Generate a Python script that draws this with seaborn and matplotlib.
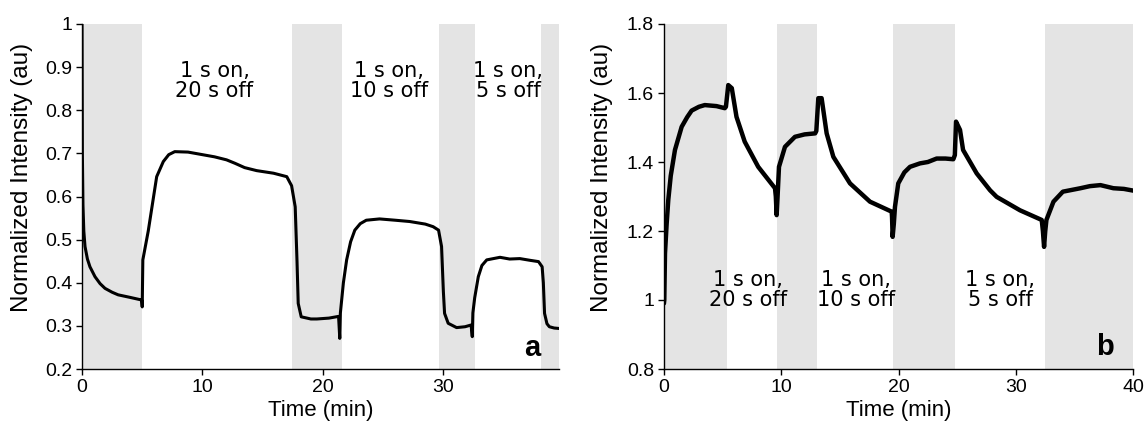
import numpy as np
import pandas as pd
import matplotlib
matplotlib.use("Agg")
import matplotlib.pyplot as plt
import seaborn as sns

# ---------------- data ----------------
time_a = [0, 0.03, 0.08, 0.15, 0.25, 0.45, 0.66, 1.08, 1.5, 1.91, 2.5, 3.0, 4.0, 4.95,
          5.0, 5.05, 5.5, 6.2, 6.75, 7.2, 7.7, 8.8, 10.0, 11.0, 12.0, 12.7, 13.5, 14.5,
          15.9, 17.0, 17.4, 17.7, 17.85, 17.95, 18.2, 19.0, 19.5, 20.5, 21.3, 21.4,
          21.45, 21.7, 21.97, 22.3, 22.65, 23.1, 23.6, 24.7, 26.0, 27.2, 28.5, 29.15,
          29.6, 29.85, 30.0, 30.1, 30.4, 31.1, 31.8, 32.3, 32.4, 32.45, 32.6, 32.9,
          33.2, 33.6, 34.7, 35.5, 36.35, 37.2, 37.9, 38.2, 38.3, 38.4, 38.6, 38.8,
          39.2, 39.6]
intensity_a = [1.0, 0.70, 0.58, 0.52, 0.484, 0.455, 0.437, 0.414, 0.398, 0.387, 0.378,
               0.372, 0.366, 0.360, 0.344, 0.453, 0.52, 0.646, 0.681, 0.697, 0.704,
               0.703, 0.697, 0.692, 0.685, 0.677, 0.667, 0.660, 0.654, 0.646, 0.625,
               0.576, 0.45, 0.352, 0.321, 0.316, 0.316, 0.318, 0.322, 0.271, 0.33,
               0.40, 0.453, 0.495, 0.522, 0.537, 0.545, 0.548, 0.545, 0.542, 0.536,
               0.530, 0.522, 0.484, 0.38, 0.329, 0.306, 0.296, 0.298, 0.302, 0.275,
               0.33, 0.365, 0.414, 0.440, 0.453, 0.459, 0.455, 0.456, 0.452, 0.449,
               0.437, 0.40, 0.329, 0.305, 0.298, 0.295, 0.294]

time_b = [0.02, 0.05, 0.11, 0.25, 0.39, 0.6, 0.96, 1.53, 2.0, 2.38, 3.0, 3.5, 4.5, 5.2,
          5.3, 5.5, 5.8, 6.2, 6.9, 8.05, 9.48, 9.55, 9.62, 9.7, 9.82, 10.33, 11.18, 12.0,
          12.9, 13.0, 13.17, 13.45, 13.88, 14.45, 15.87, 17.57, 19.42, 19.45, 19.5,
          19.6, 19.7, 19.98, 20.5, 20.98, 21.83, 22.5, 23.25, 24.0, 24.67, 24.8, 24.9,
          25.24, 25.5, 26.66, 27.8, 28.36, 30.35, 32.2, 32.3, 32.4, 32.5, 32.6, 33.2,
          34.0, 35.5, 36.3, 37.2, 38.3, 39.2, 40.0]
intensity_b = [0.99, 1.0, 1.135, 1.22, 1.29, 1.36, 1.435, 1.502, 1.53, 1.549, 1.56,
               1.565, 1.562, 1.556, 1.56, 1.623, 1.614, 1.531, 1.459, 1.386, 1.324,
               1.30, 1.246, 1.30, 1.386, 1.444, 1.473, 1.48, 1.483, 1.49, 1.585, 1.585,
               1.483, 1.415, 1.338, 1.285, 1.256, 1.24, 1.183, 1.22, 1.27, 1.338, 1.37,
               1.386, 1.396, 1.40, 1.41, 1.41, 1.408, 1.42, 1.517, 1.493, 1.435, 1.367,
               1.318, 1.299, 1.26, 1.232, 1.20, 1.154, 1.20, 1.232, 1.285, 1.314,
               1.324, 1.33, 1.333, 1.324, 1.322, 1.317]

# shaded (light-off) intervals
bands_a = [(0, 5.0), (17.45, 21.6), (29.65, 32.6), (38.1, 39.6)]
bands_b = [(0, 5.37), (9.62, 13.1), (19.5, 24.8), (32.5, 40.0)]

labels_a = ["1 s on,\n20 s off", "1 s on,\n10 s off", "1 s on,\n5 s off"]
label_x_a = [11.0, 25.5, 35.4]
labels_b = ["1 s on,\n20 s off", "1 s on,\n10 s off", "1 s on,\n5 s off"]
label_x_b = [7.2, 16.35, 28.65]

yticks_a = [0.2, 0.3, 0.4, 0.5, 0.6, 0.7, 0.8, 0.9, 1.0]
yticklabels_a = ["0.2", "0.3", "0.4", "0.5", "0.6", "0.7", "0.8", "0.9", "1"]
yticks_b = [0.8, 1.0, 1.2, 1.4, 1.6, 1.8]
yticklabels_b = ["0.8", "1", "1.2", "1.4", "1.6", "1.8"]
xticks_a = [0, 10, 20, 30]
xticks_b = [0, 10, 20, 30, 40]

df_a = pd.DataFrame({"t": time_a, "v": intensity_a})
df_b = pd.DataFrame({"t": time_b, "v": intensity_b})

# ---------------- style ----------------
sns.set_style("ticks")
plt.rcParams["font.family"] = ["Liberation Sans", "DejaVu Sans"]
plt.rcParams["text.color"] = "black"
plt.rcParams["axes.labelcolor"] = "black"

fig = plt.figure(figsize=(11.48, 4.30), dpi=100)
ax_a = fig.add_axes([82 / 1148, 61 / 430, 477 / 1148, 345 / 430])
ax_b = fig.add_axes([663.7 / 1148, 61 / 430, 469.6 / 1148, 345 / 430])

band_color = "#e4e4e4"
tick_fs = 14
xlabel_fs = 16
ylabel_fs = 17.5
ann_font = "DejaVu Sans"
ann_fs = 15


def style_axis(ax, xlim, ylim, xticks, yticks, yticklabels, ylab_x):
    ax.set_xlim(*xlim)
    ax.set_ylim(*ylim)
    ax.set_xticks(xticks)
    ax.set_xticklabels([str(x) for x in xticks], fontsize=tick_fs)
    ax.set_yticks(yticks)
    ax.set_yticklabels(yticklabels, fontsize=tick_fs)
    sns.despine(ax=ax)
    for s in ["left", "bottom"]:
        ax.spines[s].set_linewidth(1.0)
        ax.spines[s].set_color("black")
    ax.tick_params(direction="out", length=4, width=1.0, colors="black", pad=3)
    ax.set_xlabel("Time (min)", fontsize=xlabel_fs, labelpad=3, color="black")
    ax.set_ylabel("Normalized Intensity (au)", fontsize=ylabel_fs, color="black")
    ax.yaxis.set_label_coords(ylab_x, 0.555)
    ax.set_facecolor("white")


# ---------------- panel a ----------------
for s, e in bands_a:
    ax_a.axvspan(s, e, color=band_color, lw=0, zorder=0)
sns.lineplot(data=df_a, x="t", y="v", ax=ax_a, color="black", lw=2.2,
             sort=False, estimator=None, zorder=3)
style_axis(ax_a, (0, 39.6), (0.2, 1.0), xticks_a, yticks_a, yticklabels_a, -0.103)
for txt, x in zip(labels_a, label_x_a):
    ax_a.text(x, 0.868, txt, ha="center", va="center", fontsize=ann_fs,
              family=ann_font, linespacing=1.05, color="black")
ax_a.text(37.35, 0.231, "a", ha="center", va="baseline", fontsize=21,
          fontweight="bold", color="black")

# ---------------- panel b ----------------
for s, e in bands_b:
    ax_b.axvspan(s, e, color=band_color, lw=0, zorder=0)
sns.lineplot(data=df_b, x="t", y="v", ax=ax_b, color="black", lw=3.2,
             sort=False, estimator=None, zorder=3)
style_axis(ax_b, (0, 40), (0.8, 1.8), xticks_b, yticks_b, yticklabels_b, -0.108)
for txt, x in zip(labels_b, label_x_b):
    ax_b.text(x, 1.029, txt, ha="center", va="center", fontsize=ann_fs,
              family=ann_font, linespacing=1.05, color="black")
ax_b.text(37.6, 0.841, "b", ha="center", va="baseline", fontsize=21,
          fontweight="bold", color="black")

fig.savefig("out.png", dpi=100, facecolor="white")
